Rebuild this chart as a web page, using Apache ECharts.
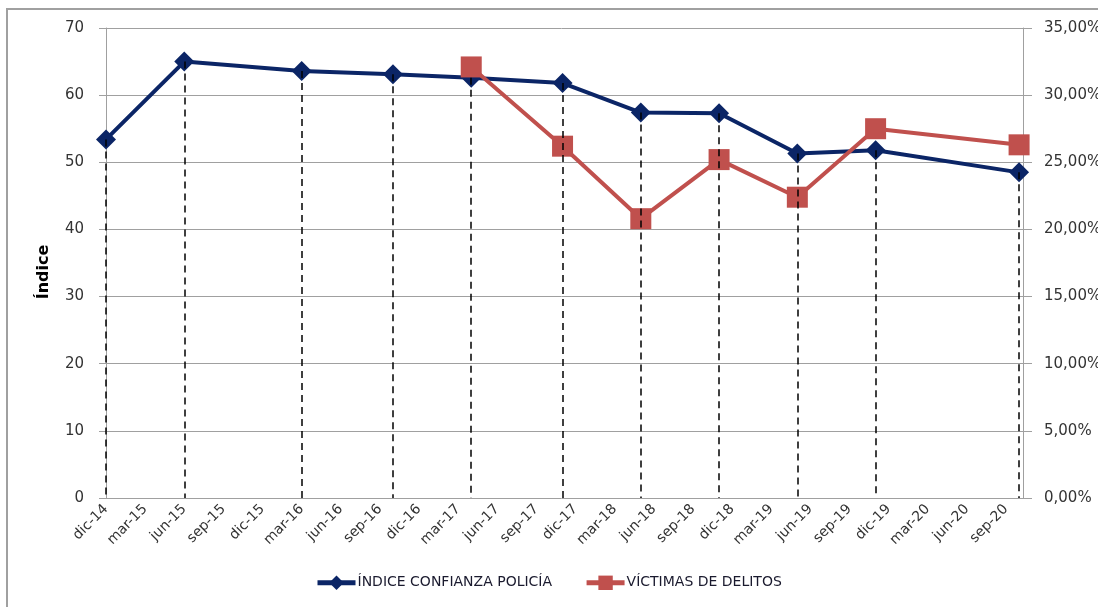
<!DOCTYPE html>
<html>
<head>
<meta charset="utf-8">
<script src="https://cdn.jsdelivr.net/npm/echarts@6/dist/echarts.min.js"></script>
<style>
  html, body { margin: 0; padding: 0; background: #fff; }
  #confianzaPolicia { width: 1098px; height: 607px; }
</style>
</head>
<body>
<div id="confianzaPolicia"></div>
<script>
// fechas de medicion (año-mes)
const fechas = ['2014-12', '2015-06', '2016-03', '2016-10', '2017-04', '2017-11', '2018-05', '2018-11', '2019-05', '2019-11', '2020-10']
const indiceConfianza = [53.4, 65.0, 63.6, 63.1, 62.6, 61.8, 57.4, 57.3, 51.3, 51.8, 48.5]
// porcentaje de victimas, sin dato antes de abr-17
const victimasDelitos = [null, null, null, null, 32.1, 26.2, 20.8, 25.2, 22.4, 27.5, 26.3]
const etiquetasX = ['dic-14', 'mar-15', 'jun-15', 'sep-15', 'dic-15', 'mar-16', 'jun-16', 'sep-16',
  'dic-16', 'mar-17', 'jun-17', 'sep-17', 'dic-17', 'mar-18', 'jun-18', 'sep-18',
  'dic-18', 'mar-19', 'jun-19', 'sep-19', 'dic-19', 'mar-20', 'jun-20', 'sep-20']

// meses transcurridos desde dic-14
function mesIndice(f) {
  const [a, m] = f.split('-').map(Number)
  return (a - 2014) * 12 + (m - 12)
}

const xs = fechas.map(mesIndice)
const serieIndice = xs.map((x, i) => [x, indiceConfianza[i]])
const serieVictimas = xs.map((x, i) => [x, victimasDelitos[i]]).filter(p => p[1] !== null)
const lineasCaida = serieIndice.map(p => [{ coord: [p[0], p[1]] }, { coord: [p[0], 0] }])

const chart = echarts.init(document.getElementById('confianzaPolicia'))
const fuente = 'DejaVu Sans'
const gris = '#a0a0a0'

chart.setOption({
  animation: false,
  textStyle: { fontFamily: fuente },
  graphic: [{
    type: 'rect',
    shape: { x: 7, y: 9, width: 1300, height: 800 },
    style: { fill: 'none', stroke: gris, lineWidth: 2 },
    silent: true
  }],
  grid: { left: 100, right: 75, top: 28, bottom: 109, outerBoundsMode: 'none' },
  legend: {
    bottom: 12,
    left: 310,
    itemWidth: 38,
    itemHeight: 18,
    itemGap: 32,
    lineStyle: { width: 5 },
    textStyle: { fontFamily: fuente, fontSize: 14, color: '#1a1a2e', padding: [0, 0, 0, -3] },
    data: ['ÍNDICE CONFIANZA POLICÍA', 'VÍCTIMAS DE DELITOS']
  },
  xAxis: {
    type: 'value',
    min: -0.46,
    max: 70.3,
    splitLine: { show: false },
    axisLine: { show: false },
    axisTick: { show: false },
    axisLabel: {
      customValues: etiquetasX.map((_, i) => i * 3),
      formatter: v => etiquetasX[Math.round(v / 3)],
      rotate: 45,
      margin: 9,
      fontSize: 14,
      color: '#333'
    }
  },
  yAxis: [{
    type: 'value',
    min: 0,
    max: 70,
    interval: 10,
    name: 'Índice',
    nameLocation: 'middle',
    nameGap: 48,
    nameTextStyle: { fontWeight: 'bold', fontSize: 16, color: '#000', fontFamily: fuente, padding: [0, 18, 0, 0] },
    axisLine: { show: true, lineStyle: { color: gris, width: 1 } },
    axisTick: { show: true, length: 7, lineStyle: { color: gris } },
    splitLine: { lineStyle: { color: gris, width: 1 } },
    axisLabel: { fontSize: 15, color: '#333', margin: 16 }
  }, {
    type: 'value',
    min: 0,
    max: 35,
    interval: 5,
    position: 'right',
    axisLine: { show: true, lineStyle: { color: gris, width: 1 } },
    axisTick: { show: true, length: 9, lineStyle: { color: gris } },
    splitLine: { show: false },
    axisLabel: {
      fontSize: 15,
      color: '#333',
      margin: 21,
      formatter: v => v.toFixed(2).replace('.', ',') + '%'
    }
  }],
  series: [{
    name: 'ÍNDICE CONFIANZA POLICÍA',
    type: 'line',
    data: serieIndice,
    yAxisIndex: 0,
    symbol: 'diamond',
    symbolSize: 20,
    z: 3,
    itemStyle: { color: '#0b2566' },
    lineStyle: { color: '#0b2566', width: 4 },
    markLine: {
      silent: true,
      symbol: 'none',
      label: { show: false },
      lineStyle: { color: '#000', type: [7, 5], width: 1.5 },
      data: lineasCaida
    }
  }, {
    name: 'VÍCTIMAS DE DELITOS',
    type: 'line',
    data: serieVictimas,
    yAxisIndex: 1,
    symbol: 'rect',
    symbolSize: 21,
    z: 4,
    itemStyle: { color: '#c0504d' },
    lineStyle: { color: '#c0504d', width: 4 }
  }]
})
</script>
</body>
</html>
